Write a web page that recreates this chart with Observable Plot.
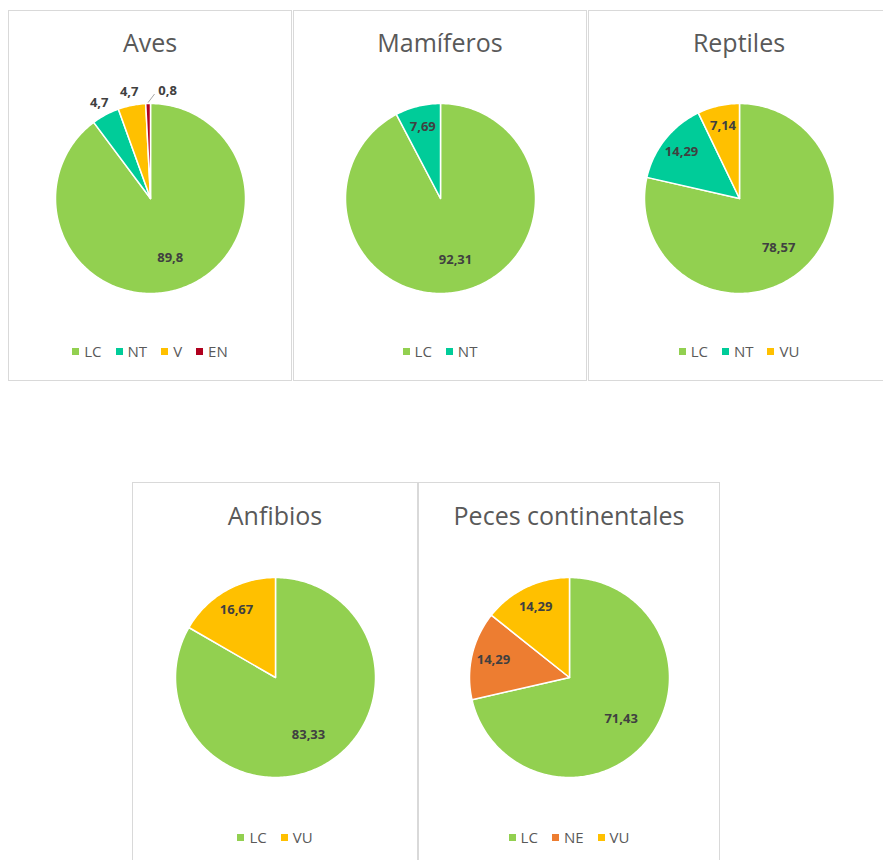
<!DOCTYPE html>
<html><head><meta charset="utf-8">
<script src="https://cdn.jsdelivr.net/npm/d3@7"></script>
<script src="https://cdn.jsdelivr.net/npm/@observablehq/plot@0.6"></script>
<style>
html,body{margin:0;padding:0;background:#fff}
body{width:883px;height:860px;overflow:hidden;position:relative;font-family:"Open Sans",sans-serif}
.panel{position:absolute;border:1px solid #d9d9d9;box-sizing:border-box;background:#fff;overflow:hidden}
.title{position:absolute;left:0;right:0;text-align:center;font-size:25px;line-height:25px;color:#595959;white-space:nowrap}
.legendbox{position:absolute;left:0;right:0;height:20px;display:flex;align-items:center;justify-content:center}
.lg-swatches{justify-content:center;font-family:"Open Sans",sans-serif !important;font-size:15px !important;color:#595959;margin:0 !important;min-height:0 !important}
.lg-swatch>svg{margin-right:5px !important}
.lg-swatch{margin-right:14px !important}
.lg-swatch:last-child{margin-right:0 !important}
.panel svg.plot{position:absolute;left:0;top:0}
</style>
</head><body>
<script>
// ---- data ----
const panelTitles = ["Aves", "Mamíferos", "Reptiles", "Anfibios", "Peces continentales"];
const avesCategories = ["LC", "NT", "V", "EN"];
const avesValues = [89.8, 4.7, 4.7, 0.8];
const mamiferosCategories = ["LC", "NT"];
const mamiferosValues = [92.31, 7.69];
const reptilesCategories = ["LC", "NT", "VU"];
const reptilesValues = [78.57, 14.29, 7.14];
const anfibiosCategories = ["LC", "VU"];
const anfibiosValues = [83.33, 16.67];
const pecesCategories = ["LC", "NE", "VU"];
const pecesValues = [71.43, 14.29, 14.29];

// ---- styles ----
const categoryColors = {LC: "#92D050", NT: "#00CC99", V: "#FFC000", VU: "#FFC000", EN: "#B0001E", NE: "#ED7D31"};

// ---- layout ----
const layouts = [
  {left: 8,   top: 10,  width: 284, height: 371, r: 95,  cy: 187, titleTop: 19, legendTop: 330},
  {left: 293, top: 10,  width: 294, height: 371, r: 95,  cy: 187, titleTop: 19, legendTop: 330},
  {left: 588, top: 10,  width: 302, height: 371, r: 95,  cy: 187, titleTop: 19, legendTop: 330, cx: 150},
  {left: 132, top: 482, width: 286, height: 400, r: 100, cy: 194, titleTop: 20, legendTop: 344},
  {left: 418, top: 482, width: 302, height: 400, r: 100, cy: 194, titleTop: 20, legendTop: 344}
];
const series = [
  [avesCategories, avesValues],
  [mamiferosCategories, mamiferosValues],
  [reptilesCategories, reptilesValues],
  [anfibiosCategories, anfibiosValues],
  [pecesCategories, pecesValues]
];

const fmt = v => String(v).replace(".", ",");

function drawPanel(title, cats, vals, L) {
  const panel = document.createElement("div");
  panel.className = "panel";
  Object.assign(panel.style, {left: L.left + "px", top: L.top + "px", width: L.width + "px", height: L.height + "px"});
  document.body.appendChild(panel);

  const innerW = L.width - 2;
  const cx = L.cx ?? innerW / 2;
  const r = L.r;
  const total = d3.sum(vals);
  const rows = cats.map((c, i) => ({cat: c, value: vals[i]}));
  const arcs = d3.pie().sort(null).value(d => d.value)(rows);

  // slice polygons in unit coordinates
  const pts = [];
  arcs.forEach(s => {
    const n = Math.max(2, Math.ceil((s.endAngle - s.startAngle) / (Math.PI / 180)));
    pts.push({cat: s.data.cat, x: 0, y: 0});
    for (let k = 0; k <= n; k++) {
      const a = s.startAngle + (s.endAngle - s.startAngle) * k / n;
      pts.push({cat: s.data.cat, x: Math.sin(a), y: Math.cos(a)});
    }
    pts.push({cat: s.data.cat, x: 0, y: 0});
  });

  const midLabels = [], startLabels = [], leaders = [];
  arcs.forEach(s => {
    const f = s.data.value / total;
    const mid = (s.startAngle + s.endAngle) / 2;
    const text = fmt(s.data.value);
    if (f < 0.02) {
      const x1 = 1.01 * Math.sin(mid), y1 = 1.01 * Math.cos(mid);
      const x2 = 1.1 * Math.sin(mid) + 0.07, y2 = 1.1 * Math.cos(mid);
      leaders.push({x1, y1, x2, y2});
      startLabels.push({x: x2 + 0.04, y: y2 + 0.03, text});
    } else {
      const rr = f >= 0.5 ? 0.66 : f >= 0.05 ? 0.78 : 1.14;
      midLabels.push({x: rr * Math.sin(mid), y: rr * Math.cos(mid), text});
    }
  });

  const chart = Plot.plot({
    width: innerW,
    height: L.legendTop,
    x: {domain: [-1, 1], range: [cx - r, cx + r], axis: null},
    y: {domain: [-1, 1], range: [L.cy + r, L.cy - r], axis: null},
    color: {type: "ordinal", domain: cats, range: cats.map(c => categoryColors[c])},
    style: {fontFamily: "Open Sans, sans-serif", overflow: "visible", background: "transparent"},
    marks: [
      Plot.line(pts, {x: "x", y: "y", z: "cat", fill: "cat", stroke: "white", strokeWidth: 1.5, strokeLinejoin: "round", curve: "linear"}),
      Plot.link(leaders, {x1: "x1", y1: "y1", x2: "x2", y2: "y2", stroke: "#a6a6a6", strokeWidth: 1}),
      Plot.text(midLabels, {x: "x", y: "y", text: "text", fontWeight: "bold", fontSize: 13, fill: "#404040"}),
      Plot.text(startLabels, {x: "x", y: "y", text: "text", fontWeight: "bold", fontSize: 13, fill: "#404040", textAnchor: "start"})
    ]
  });
  panel.appendChild(chart);

  const t = document.createElement("div");
  t.className = "title";
  t.style.top = L.titleTop + "px";
  t.textContent = title;
  panel.appendChild(t);

  const lb = document.createElement("div");
  lb.className = "legendbox";
  lb.style.top = L.legendTop + "px";
  lb.appendChild(chart.legend("color", {swatchSize: 7, className: "lg"}));
  panel.appendChild(lb);
}

panelTitles.forEach((t, i) => drawPanel(t, series[i][0], series[i][1], layouts[i]));
</script>
</body></html>
